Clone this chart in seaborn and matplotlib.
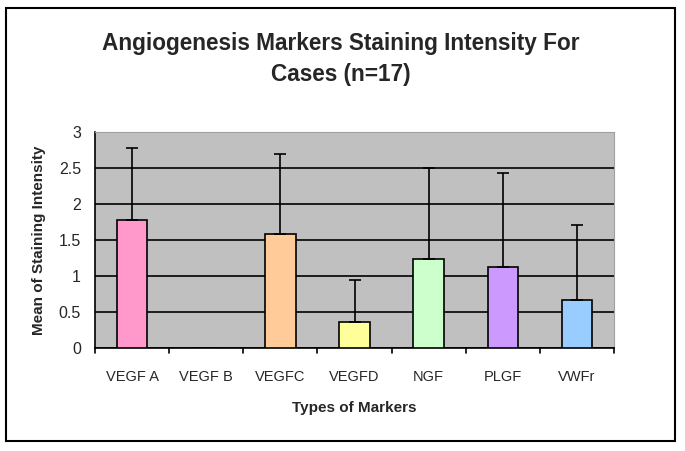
import matplotlib
matplotlib.use("Agg")
import matplotlib.pyplot as plt
import seaborn as sns
import numpy as np
import pandas as pd
from matplotlib.patches import Rectangle

categories = ["VEGF A", "VEGF B", "VEGFC", "VEGFD", "NGF", "PLGF", "VWFr"]
means = [1.78, 0.0, 1.58, 0.36, 1.23, 1.12, 0.66]
sds = [1.00, 0.0, 1.12, 0.59, 1.27, 1.31, 1.05]
colors = ["#FF99CC", "#C0C0C0", "#FFCC99", "#FFFF99", "#CCFFCC", "#CC99FF", "#99CCFF"]
yticks = [0, 0.5, 1, 1.5, 2, 2.5, 3]
ytick_labels = ["0", "0.5", "1", "1.5", "2", "2.5", "3"]

sns.set_theme(style="white")
plt.rcParams['font.family'] = ['Liberation Sans', 'DejaVu Sans']

df = pd.DataFrame({"marker": categories, "mean": means})

fig = plt.figure(figsize=(6.85, 4.51), dpi=100)
ax = fig.add_axes([95/685, 1-348/451, (614-95)/685, (348-132)/451])
ax.set_facecolor("#C0C0C0")

sns.barplot(data=df, x="marker", y="mean", hue="marker", palette=colors,
            legend=False, width=0.41, edgecolor="black", linewidth=1.2,
            saturation=1, ax=ax, zorder=3)

xs = np.arange(len(categories))
m = np.array(means)
s = np.array(sds)
mask = s > 0
ax.errorbar(xs[mask], m[mask], yerr=[np.zeros(mask.sum()), s[mask]],
            fmt="none", ecolor="black", elinewidth=1.2, capsize=4,
            capthick=1.2, zorder=4)

ax.set_ylim(0, 3)
ax.set_xlim(-0.5, len(categories) - 0.5)
ax.set_yticks(yticks)
ax.set_yticklabels(ytick_labels, fontsize=11.5)
ax.yaxis.grid(True, color="black", linewidth=1.2, zorder=1)
ax.set_axisbelow(True)

ax.set_xticks(xs)
ax.set_xticklabels(categories, fontsize=10.5)
ax.tick_params(axis="x", length=0, pad=16)
for b in np.arange(-0.5, len(categories), 1.0):
    ax.plot([b, b], [0, -0.07], color="black", lw=1.2, clip_on=False, zorder=5)
ax.tick_params(axis="y", length=6, width=1.2, color="black", direction="inout", pad=7)

for side in ["left", "bottom"]:
    ax.spines[side].set_color("black")
    ax.spines[side].set_linewidth(1.2)
for side in ["top", "right"]:
    ax.spines[side].set_color("#A0A0A0")
    ax.spines[side].set_linewidth(0.8)

ax.set_xlabel("Types of Markers", fontsize=11, fontweight="bold", labelpad=12)
ax.set_ylabel("Mean of Staining Intensity", fontsize=11, fontweight="bold", labelpad=9)

fig.text(0.497, 1 - 59/451, "Angiogenesis Markers Staining Intensity For\nCases (n=17)",
         ha="center", va="center", fontsize=16.3, fontweight="bold", linespacing=1.4)

fig.patches.append(Rectangle((6/685, 1-441/451), (675-6)/685, (441-8)/451,
                             transform=fig.transFigure, fill=False,
                             edgecolor="black", linewidth=1.5))

fig.savefig("out.png", dpi=100)
